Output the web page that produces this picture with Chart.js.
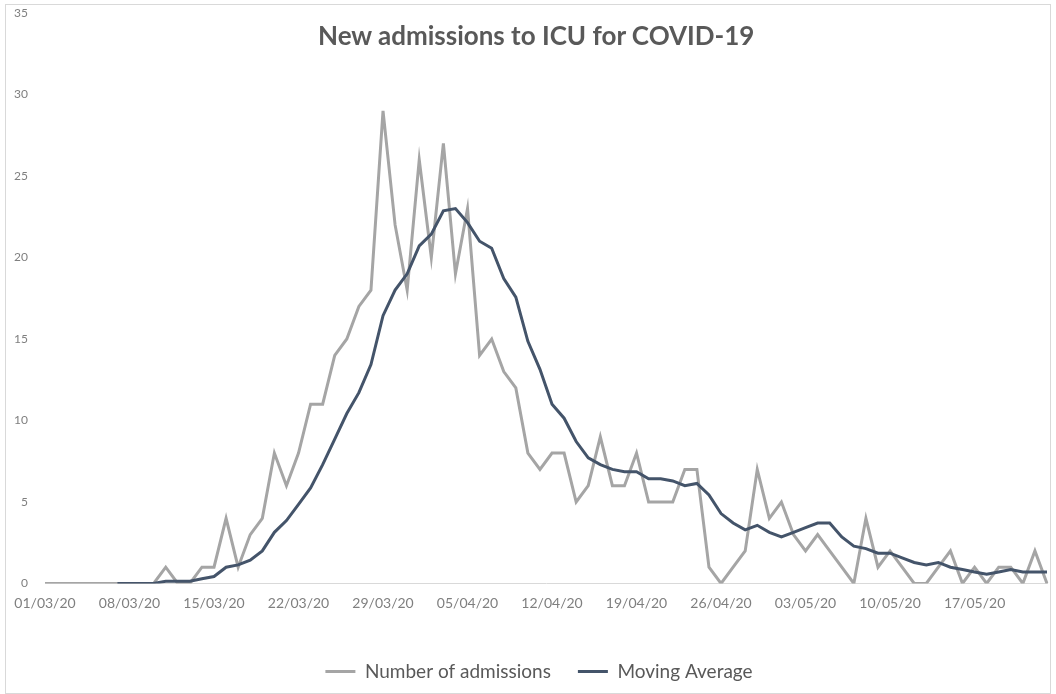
<!DOCTYPE html>
<html>
<head>
<meta charset="utf-8">
<title>New admissions to ICU for COVID-19</title>
<script src="https://cdn.jsdelivr.net/npm/chart.js@4.4.1/dist/chart.umd.min.js"></script>
<style>
    html, body { margin: 0; padding: 0; background: #ffffff; }
    #wrap { position: relative; width: 1056px; height: 694px; }
    #frame {
        position: absolute; left: 5px; top: 4px; width: 1046px; height: 690px;
        border: 1px solid #d9d9d9; box-sizing: border-box; pointer-events: none;
    }
    #chartTitle {
        position: absolute; left: 318px; top: 20px; margin: 0;
        font: bold 26px/31px Lato, sans-serif; color: #595959; white-space: nowrap;
    }
</style>
</head>
<body>
<div id="wrap">
    <canvas id="icuChart"></canvas>
    <h1 id="chartTitle">New admissions to ICU for COVID-19</h1>
    <div id="frame"></div>
</div>
<script>
// ─────────────────────────────────────────────
// DATA
// ─────────────────────────────────────────────
const dates = [
    '01/03/20','02/03/20','03/03/20','04/03/20','05/03/20','06/03/20','07/03/20','08/03/20','09/03/20','10/03/20',
    '11/03/20','12/03/20','13/03/20','14/03/20','15/03/20','16/03/20','17/03/20','18/03/20','19/03/20','20/03/20',
    '21/03/20','22/03/20','23/03/20','24/03/20','25/03/20','26/03/20','27/03/20','28/03/20','29/03/20','30/03/20',
    '31/03/20','01/04/20','02/04/20','03/04/20','04/04/20','05/04/20','06/04/20','07/04/20','08/04/20','09/04/20',
    '10/04/20','11/04/20','12/04/20','13/04/20','14/04/20','15/04/20','16/04/20','17/04/20','18/04/20','19/04/20',
    '20/04/20','21/04/20','22/04/20','23/04/20','24/04/20','25/04/20','26/04/20','27/04/20','28/04/20','29/04/20',
    '30/04/20','01/05/20','02/05/20','03/05/20','04/05/20','05/05/20','06/05/20','07/05/20','08/05/20','09/05/20',
    '10/05/20','11/05/20','12/05/20','13/05/20','14/05/20','15/05/20','16/05/20','17/05/20','18/05/20','19/05/20',
    '20/05/20','21/05/20','22/05/20','23/05/20'
];

const tickDates = [
    '01/03/20','08/03/20','15/03/20','22/03/20','29/03/20','05/04/20',
    '12/04/20','19/04/20','26/04/20','03/05/20','10/05/20','17/05/20'
];

const admissions = [
    0, 0, 0, 0, 0, 0, 0, 0, 0, 0,
    1, 0, 0, 1, 1, 4, 1, 3, 4, 8,
    6, 8, 11, 11, 14, 15, 17, 18, 29, 22,
    18, 26, 20, 27, 19, 23, 14, 15, 13, 12,
    8, 7, 8, 8, 5, 6, 9, 6, 6, 8,
    5, 5, 5, 7, 7, 1, 0, 1, 2, 7,
    4, 5, 3, 2, 3, 2, 1, 0, 4, 1,
    2, 1, 0, 0, 1, 2, 0, 1, 0, 1,
    1, 0, 2, 0
];

const movingAverage = [
    null, null, null, null, null, null, 0, 0, 0, 0,
    0.14, 0.14, 0.14, 0.29, 0.43, 1.0, 1.14, 1.43, 2.0, 3.14,
    3.86, 4.86, 5.86, 7.29, 8.86, 10.43, 11.71, 13.43, 16.43, 18.0,
    19.0, 20.71, 21.43, 22.86, 23.0, 22.14, 21.0, 20.57, 18.71, 17.57,
    14.86, 13.14, 11.0, 10.14, 8.71, 7.71, 7.29, 7.0, 6.86, 6.86,
    6.43, 6.43, 6.29, 6.0, 6.14, 5.43, 4.29, 3.71, 3.29, 3.57,
    3.14, 2.86, 3.14, 3.43, 3.71, 3.71, 2.86, 2.29, 2.14, 1.86,
    1.86, 1.57, 1.29, 1.14, 1.29, 1.0, 0.86, 0.71, 0.57, 0.71,
    0.86, 0.71, 0.71, 0.71
];

const yTicks = [0, 5, 10, 15, 20, 25, 30, 35];


// ─────────────────────────────────────────────
// CHART
// ─────────────────────────────────────────────
Chart.defaults.font.family = 'Lato';

const GREY = '#a5a5a5';
const NAVY = '#44546a';

new Chart(document.getElementById('icuChart').getContext('2d'), {
    type: 'line',
    data: {
        labels: dates,
        datasets: [
            {
                label: 'Number of admissions',
                data: admissions,
                borderColor: GREY,
                backgroundColor: GREY,
                borderWidth: 3,
                pointRadius: 0,
                pointHoverRadius: 0,
                tension: 0,
                order: 1
            },
            {
                label: 'Moving Average',
                data: movingAverage,
                borderColor: NAVY,
                backgroundColor: NAVY,
                borderWidth: 3,
                pointRadius: 0,
                pointHoverRadius: 0,
                tension: 0,
                order: 0
            }
        ]
    },
    options: {
        responsive: true,
        maintainAspectRatio: false,
        animation: false,
        // negative right padding only shifts the centred legend; the plot edge comes from the x scale
        layout: { autoPadding: false, padding: { top: 0, right: -22, bottom: 3, left: 0 } },
        plugins: {
            tooltip: { enabled: false },
            title: { display: false },
            legend: {
                position: 'bottom',
                labels: {
                    color: '#595959',
                    font: { size: 19 },
                    usePointStyle: true,
                    pointStyle: 'line',
                    pointStyleWidth: 30,
                    padding: 27,
                    sort: (a, b) => a.datasetIndex - b.datasetIndex
                }
            }
        },
        scales: {
            x: {
                offset: false,
                grid: { display: false, drawTicks: false },
                border: { display: true, color: '#d9d9d9', width: 1 },
                ticks: {
                    autoSkip: false,
                    maxRotation: 0,
                    minRotation: 0,
                    padding: 12,
                    color: '#7f7f7f',
                    font: { size: 14 },
                    callback: function (value) {
                        const lbl = this.getLabelForValue(value);
                        return tickDates.includes(lbl) ? lbl : '';
                    }
                },
                afterFit: (scale) => {
                    scale.height = 51.5;
                    scale.paddingLeft = 0;
                    scale.paddingRight = 9;
                }
            },
            y: {
                min: 0,
                max: 35,
                grid: { display: false, drawTicks: false },
                border: { display: false },
                afterBuildTicks: (scale) => { scale.ticks = yTicks.map(v => ({ value: v })); },
                ticks: {
                    padding: 17,
                    color: '#7f7f7f',
                    font: { size: 12 }
                },
                afterFit: (scale) => {
                    scale.width = 45;
                    scale.paddingTop = 13;
                    scale.paddingBottom = 0;
                }
            }
        }
    }
});
</script>
</body>
</html>
